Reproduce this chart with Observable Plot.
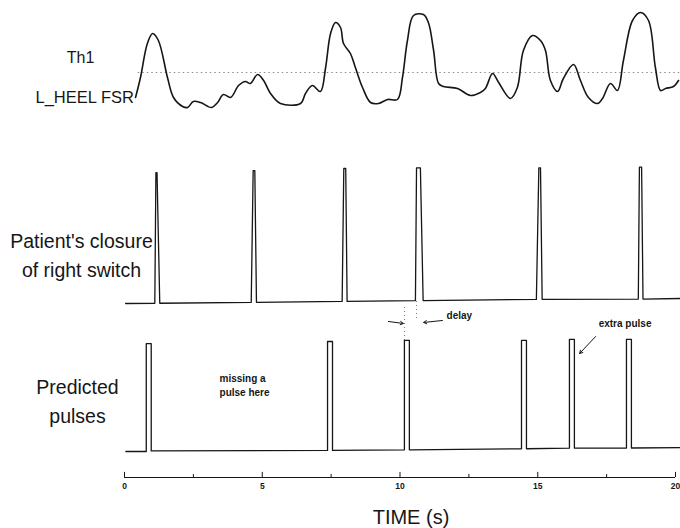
<!DOCTYPE html>
<html><head><meta charset="utf-8">
<script src="https://cdn.jsdelivr.net/npm/d3@7"></script>
<script src="https://cdn.jsdelivr.net/npm/@observablehq/plot@0.6"></script>
<style>
body{margin:0;background:#fff;}
#chart{position:relative;width:680px;height:528px;overflow:hidden;background:#fff;}
#chart svg{position:absolute;left:0;}
</style></head><body><div id="chart"></div>
<script>
// ---- Top panel: L_HEEL FSR signal (arbitrary units) ----
const fsrTime = [0.40,0.58,0.83,1.02,1.23,1.56,1.78,2.11,2.29,2.50,2.76,3.16,3.38,3.59,3.85,4.14,4.39,4.57,4.83,5.05,5.30,5.66,6.39,6.57,6.82,7.11,7.30,7.48,7.66,7.84,7.95,8.20,8.38,8.64,8.93,9.22,9.55,9.91,10.09,10.27,10.49,10.85,11.03,11.22,11.40,11.58,12.09,12.56,12.92,13.10,13.36,13.58,14.01,14.26,14.48,14.81,15.10,15.28,15.46,15.72,15.93,16.30,16.55,16.84,17.17,17.35,17.64,17.89,18.11,18.44,18.73,19.02,19.27,19.46,19.64,19.93,20.11];
const fsrLevel = [13,33,67,77,70,33,13,4,3,9,8,3,8,16,13,25,29,27,36,30,17,7,7,17,25,19,43,77,88,83,67,57,43,23,8,7,11,11,33,70,95,96,88,60,27,24,22,15,18,22,37,28,12,23,60,75,70,60,30,19,32,46,30,13,7,12,27,20,50,90,98,90,43,20,22,24,30];
const thresholdLevel = [38];
const thresholdSpan = [0.5, 20.2];

// ---- Middle panel: patient's closure of right switch ----
const switchTime = [0.04, 1.10,1.14,1.18,1.28, 4.60,4.67,4.73,4.79, 7.90,7.96,8.03,8.08, 10.56,10.60,10.74,10.84, 14.95,15.04,15.10,15.16, 18.65,18.69,18.77,18.82, 20.18];
const switchLevel = [0, 0.002,0.97,0.97,0.002, 0.009,0.985,0.985,0.009, 0.015,1.0,1.0,0.015, 0.022,1.005,1.005,0.022, 0.03,1.005,1.005,0.03, 0.033,1.01,1.01,0.033, 0.037];

// ---- Bottom panel: predicted pulses ----
const predTime = [0.05, 0.79,0.79,0.97,0.97, 7.37,7.37,7.55,7.55, 10.16,10.16,10.34,10.34, 14.41,14.41,14.59,14.59, 16.15,16.15,16.33,16.33, 18.22,18.22,18.40,18.40, 20.18];
const predLevel = [0, 0,0.98,0.98,0.005, 0.01,1.0,1.0,0.01, 0.015,1.01,1.01,0.015, 0.025,1.01,1.01,0.025, 0.03,1.02,1.02,0.03, 0.032,1.02,1.02,0.032, 0.036];

// ---- Annotations (in bottom panel units) ----
const noteText = ["delay", "extra pulse", "missing a\npulse here"];
const noteTime = [11.69, 17.21, 3.45];
const noteLevel = [1.245, 1.173, 0.609];
const arrowT1 = [9.58, 11.54, 17.10];
const arrowT2 = [10.12, 10.86, 16.52];
const arrowV1 = [1.182, 1.191, 1.045];
const arrowV2 = [1.164, 1.173, 0.891];
const guideTime = [10.16, 10.60];
const guideFrom = [1.009, 1.209];
const guideTo = [1.327, 1.373];

// ---- Axis ----
const majorTicks = [0, 5, 10, 15, 20];
const minorTicks = [2.5, 7.5, 12.5, 17.5];
const axisTitle = "TIME (s)";
const panelTitles = ["Th1", "L_HEEL FSR", "Patient's closure\nof right switch", "Predicted\npulses"];

const FONT = "'Liberation Sans', Arial, Helvetica, sans-serif";
const INK = "#161616";
const fsr = fsrTime.map((t, i) => ({t, v: fsrLevel[i]}));
const sw = switchTime.map((t, i) => ({t, v: switchLevel[i]}));
const pred = predTime.map((t, i) => ({t, v: predLevel[i]}));
const notes = noteText.map((s, i) => ({s, t: noteTime[i], v: noteLevel[i]}));
const arrows = arrowT1.map((t, i) => ({t1: t, t2: arrowT2[i], v1: arrowV1[i], v2: arrowV2[i]}));
const guides = guideTime.map((t, i) => ({t, a: guideFrom[i], b: guideTo[i]}));

const base = {
  width: 680, marginLeft: 124, marginRight: 5,
  x: {domain: [0, 20], axis: null},
  style: {fontFamily: FONT, background: "transparent", overflow: "visible", color: INK}
};

const top1 = Plot.plot({...base, height: 140, marginTop: 10, marginBottom: 30,
  y: {domain: [0, 100], axis: null},
  marks: [
    Plot.ruleY(thresholdLevel, {x1: thresholdSpan[0], x2: thresholdSpan[1], stroke: "#8c8c8c", strokeWidth: 1, strokeDasharray: "1.5,3"}),
    Plot.line(fsr, {x: "t", y: "v", curve: "catmull-rom", stroke: INK, strokeWidth: 1.6}),
    Plot.text([panelTitles[0]], {frameAnchor: "left", dx: -44, dy: -3, fontSize: 16, textAnchor: "middle"}),
    Plot.text([panelTitles[1]], {frameAnchor: "left", dx: -89, dy: 37, fontSize: 16.5, textAnchor: "start"})
  ]});

const mid = Plot.plot({...base, height: 170, marginTop: 28, marginBottom: 7,
  y: {domain: [0, 1], axis: null},
  marks: [
    Plot.line(sw, {x: "t", y: "v", stroke: INK, strokeWidth: 1.3, strokeLinejoin: "round"}),
    Plot.text([panelTitles[2]], {frameAnchor: "left", dx: -43, dy: 17.5, fontSize: 19.5, lineHeight: 1.44, textAnchor: "middle"})
  ]});

const bot = Plot.plot({...base, height: 190, marginTop: 51, marginBottom: 29,
  y: {domain: [0, 1], axis: null},
  marks: [
    Plot.ruleX(guides, {x: "t", y1: "a", y2: "b", stroke: "#777", strokeWidth: 1, strokeDasharray: "1,3"}),
    Plot.line(pred, {x: "t", y: "v", stroke: INK, strokeWidth: 1.3, strokeLinejoin: "round"}),
    Plot.arrow(arrows, {x1: "t1", y1: "v1", x2: "t2", y2: "v2", stroke: INK, strokeWidth: 1, headLength: 5}),
    Plot.text(notes, {x: "t", y: "v", text: "s", textAnchor: "start", fontSize: 10, fontWeight: "bold", lineHeight: 1.35}),
    Plot.text([panelTitles[3]], {frameAnchor: "left", dx: -47, dy: 3, fontSize: 19.5, lineHeight: 1.44, textAnchor: "middle"})
  ]});

const axis = Plot.plot({...base, height: 68, marginTop: 11, marginBottom: 51,
  y: {domain: [0, 1], axis: null},
  marks: [
    Plot.ruleY([0], {x1: 0, x2: 20, stroke: INK, strokeWidth: 1}),
    Plot.ruleX(majorTicks, {y1: 0, y2: 0.85, stroke: INK, strokeWidth: 1}),
    Plot.ruleX(minorTicks, {y1: 0, y2: 0.5, stroke: INK, strokeWidth: 1}),
    Plot.text(majorTicks, {x: d => d, y: 0, dy: 9, text: d => String(d), fontSize: 8.5, fontWeight: "bold", lineAnchor: "middle"}),
    Plot.text([axisTitle], {frameAnchor: "bottom", dx: 11, dy: 40, fontSize: 20, lineAnchor: "middle"})
  ]});

const chart = document.getElementById("chart");
[[top1, 0], [mid, 140], [bot, 290], [axis, 460]].forEach(([svg, y]) => {
  svg.style.top = y + "px";
  chart.appendChild(svg);
});
</script></body></html>
